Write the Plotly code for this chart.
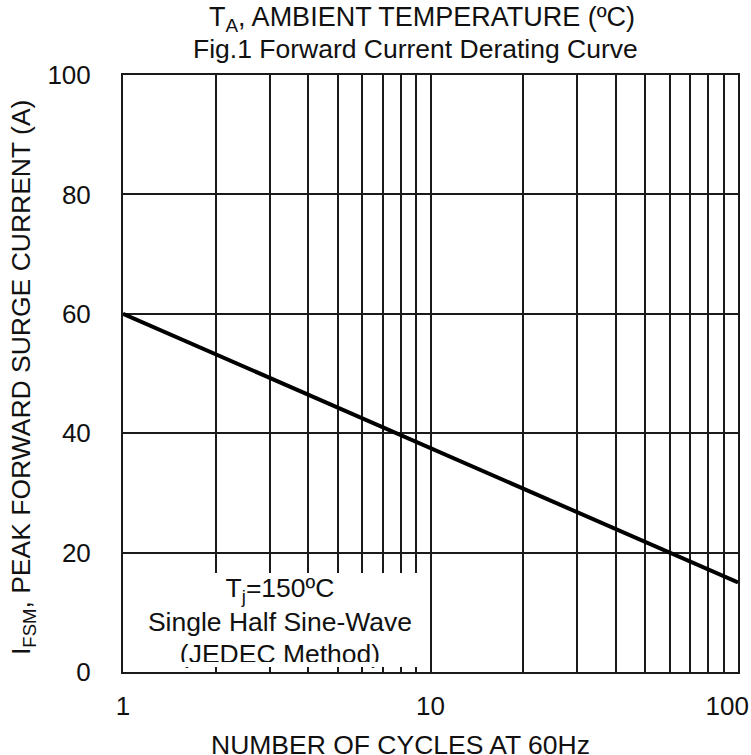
import plotly.graph_objects as go

# data
cycles = [1, 10, 100]
ifsm = [60, 37.5, 15]

x_grid_vals = [1, 2, 3, 4, 5, 6, 7, 8, 9, 10, 20, 30, 40, 50, 60, 70, 80, 90, 100]
x_tick_text = ["1", "", "", "", "", "", "", "", "", "10",
               "", "", "", "", "", "", "", "", "100\u00a0\u00a0\u00a0"]
y_tick_vals = [0, 20, 40, 60, 80, 100]
y_tick_text = ["0", "20", "40", "60", "80", "100"]

note_lines = ["T<sub>j</sub>=150ºC", "Single Half Sine-Wave", "(JEDEC Method)"]

FONT = "Liberation Sans, Arial, sans-serif"
INK = "#111111"

fig = go.Figure()

fig.add_trace(go.Scatter(
    x=cycles, y=ifsm, mode="lines",
    line=dict(color="black", width=4),
    showlegend=False, hoverinfo="skip",
))

fig.add_trace(go.Scatter(
    x=[3.24, 3.24, 3.24], y=[13.6, 8.0, 2.7],
    mode="text", text=note_lines, textposition="middle center",
    textfont=dict(family=FONT, size=26.5, color=INK),
    showlegend=False, hoverinfo="skip", cliponaxis=True,
))

# white note box covering gridlines
fig.add_shape(type="rect", xref="x", yref="y", x0=1.0, x1=9.6, y0=0.84, y1=16.6,
              fillcolor="white", line=dict(width=0), layer="between")
# strip that clips the bottom of the last line of text
fig.add_shape(type="rect", xref="x", yref="y", x0=1.015, x1=9.6, y0=0.84, y1=1.68,
              fillcolor="white", line=dict(width=0), layer="above")

fig.update_layout(
    width=751, height=755, autosize=False,
    margin=dict(l=123, r=13, t=75, b=83, autoexpand=False),
    paper_bgcolor="white", plot_bgcolor="white",
    font=dict(family=FONT, size=26, color=INK),
    showlegend=False,
)

fig.update_xaxes(
    type="log", range=[0, 2], automargin=False,
    tickmode="array", tickvals=x_grid_vals, ticktext=x_tick_text,
    showgrid=True, gridcolor="#1a1a1a", gridwidth=2,
    showline=True, linecolor="#1a1a1a", linewidth=2, mirror=True,
    ticks="", ticklabelstandoff=10, ticklabeloverflow="allow",
    tickfont=dict(size=26), zeroline=False,
)
fig.update_yaxes(
    range=[0, 100], automargin=False,
    tickmode="array", tickvals=y_tick_vals, ticktext=y_tick_text,
    showgrid=True, gridcolor="#1a1a1a", gridwidth=2,
    showline=True, linecolor="#1a1a1a", linewidth=2, mirror=True,
    ticks="", ticklabelstandoff=25,
    tickfont=dict(size=26), zeroline=False,
)

fig.add_annotation(text="T<sub>A</sub>, AMBIENT TEMPERATURE (ºC)", xref="paper", yref="paper",
                   x=0.486, y=1.0946, xanchor="center", yanchor="middle", showarrow=False,
                   font=dict(size=27))
fig.add_annotation(text="Fig.1 Forward Current Derating Curve", xref="paper", yref="paper",
                   x=0.4764, y=1.0436, xanchor="center", yanchor="middle", showarrow=False,
                   font=dict(size=26.5))
fig.add_annotation(text="NUMBER OF CYCLES AT 60Hz", xref="paper", yref="paper",
                   x=0.452, y=-0.1223, xanchor="center", yanchor="middle", showarrow=False,
                   font=dict(size=26.5))
fig.add_annotation(text="I<sub>FSM</sub>, PEAK FORWARD SURGE CURRENT (A)", xref="paper", yref="paper",
                   x=-0.1625, y=0.4925, xanchor="center", yanchor="middle", showarrow=False,
                   textangle=-90, font=dict(size=26.5))

fig.write_html("out.html", config={"displayModeBar": False},
               post_script="document.body.style.margin='0px';")
